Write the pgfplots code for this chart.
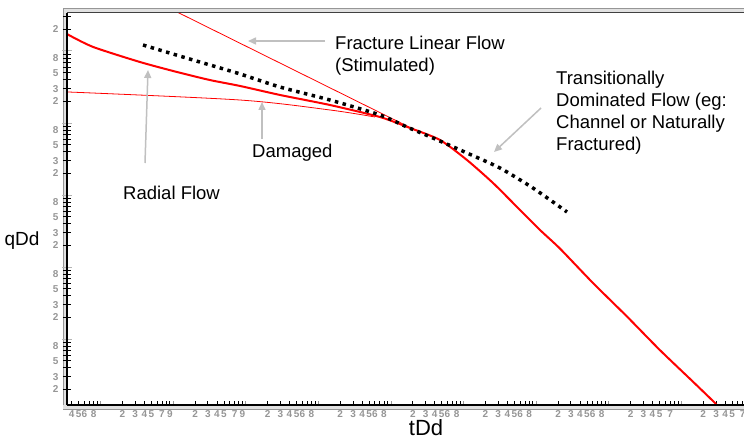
\documentclass[border=0pt]{standalone}
\usepackage{fontspec}
\setmainfont{Liberation Sans}
\usepackage{pgfplots}
\pgfplotsset{compat=1.18}
\usetikzlibrary{arrows.meta}
\definecolor{ticklab}{RGB}{150,150,150}
\definecolor{arrowgray}{RGB}{192,192,192}
\definecolor{band}{RGB}{225,225,225}
\definecolor{bandline}{RGB}{150,150,150}
\begin{document}
\begin{tikzpicture}[x=1pt,y=1pt]
% frame behind the axis
\fill[band] (63,31) rectangle (760,431);
\fill[white] (67,35) rectangle (760,427);
\draw[bandline,line width=1pt] (63,31) -- (63,431) -- (760,431);
\begin{axis}[
  at={(67pt,35pt)}, anchor=south west,
  scale only axis, width=680pt, height=392pt,
  xmode=log, ymode=log,
  xmin=3.445e-5, xmax=80090,
  ymin=1.2115e-4, ymax=33.71,
  axis line style={draw=none},
  tick pos=left,
  tick align=center,
  major tick length=8pt, minor tick length=8pt,
  every tick/.style={black, line width=0.8pt},
  xtick={4e-5,5e-5,6e-5,8e-5,
         2e-4,3e-4,4e-4,5e-4,7e-4,9e-4,
         2e-3,3e-3,4e-3,5e-3,7e-3,9e-3,
         2e-2,3e-2,4e-2,5e-2,6e-2,8e-2,
         0.2,0.3,0.4,0.5,0.6,0.8,
         2,3,4,5,6,8,
         20,30,40,50,60,80,
         200,300,400,500,600,800,
         2000,3000,4000,5000,7000,
         20000,30000,40000,50000,70000},
  xticklabels={4,5,6,8,
         2,3,4,5,7,9,
         2,3,4,5,7,9,
         2,3,4,5,6,8,
         2,3,4,5,6,8,
         2,3,4,5,6,8,
         2,3,4,5,6,8,
         2,3,4,5,6,8,
         2,3,4,5,7,
         2,3,4,5,7},
  minor xtick={7e-5,9e-5,
         6e-4,8e-4,6e-3,8e-3,
         7e-2,9e-2,0.7,0.9,7,9,70,90,700,900,
         6000,8000,9000,60000},
  ytick={8e-4,5e-4,3e-4,2e-4,
         2e-3,3e-3,5e-3,8e-3,
         2e-2,3e-2,5e-2,8e-2,
         0.2,0.3,0.5,0.8,
         2,3,5,8,
         20},
  yticklabels={8,5,3,2,
         2,3,5,8,
         2,3,5,8,
         2,3,5,8,
         2,3,5,8,
         2},
  minor ytick={4e-4,6e-4,7e-4,9e-4,
         4e-3,6e-3,7e-3,9e-3,
         4e-2,6e-2,7e-2,9e-2,
         0.4,0.6,0.7,0.9,
         4,6,7,9,30},
  extra x ticks={1e-4,1e-3,1e-2,1e-1,1,10,100,1000,10000},
  extra x tick labels={},
  extra x tick style={major tick length=8pt, tick style={bandline, line width=1pt}},
  extra y ticks={1e-3,1e-2,1e-1,1,10},
  extra y tick labels={},
  extra y tick style={major tick length=10pt, tick style={band!80!black, line width=1pt}},
  xticklabel style={font=\fontsize{10}{12}\selectfont\bfseries, text=ticklab, yshift=2pt},
  yticklabel style={font=\fontsize{10}{12}\selectfont\bfseries, text=ticklab, xshift=-1pt},
]
% main production curve
\addplot[red, line width=2pt, smooth, tension=0.4] coordinates {
(3.44e-5,17.2) (7.85e-5,11.4) (3.49e-4,7.03) (1.127e-3,5.11) (3.21e-3,3.95)
(8.32e-3,3.27) (2.96e-2,2.45) (0.1445,1.778) (0.705,1.211) (1.828,0.853)
(4.73,0.581) (11.14,0.306) (25.4,0.147) (54.5,0.0681) (112.7,0.0327)
(212.8,0.0180) (605,6.0e-3) (1782,2.05e-3) (5070,7.0e-4) (14450,2.55e-4)
(29040,1.29e-4) (30500,1.18e-4)
};
% fracture linear flow (half slope)
\addplot[red, line width=0.8pt] coordinates {(1e-3,37.0) (2.14,0.80)};
% damaged
\addplot[red, line width=0.8pt, smooth] coordinates {
(3.44e-5,2.70) (8.32e-3,2.086) (0.1445,1.516) (0.602,1.211)
};
% transitional (dotted)
\addplot[black, line width=3.5pt, dash pattern=on 3.5pt off 4.5pt, smooth, tension=0.4] coordinates {
(3.84e-4,12.11) (1.875e-3,7.50) (7.56e-3,4.95) (2.96e-2,3.16) (0.1445,2.086)
(0.705,1.292) (1.66,0.880) (3.79,0.619) (11.14,0.383) (31.7,0.237)
(90.3,0.125) (265.5,0.0581)
};
\end{axis}
% frame lines over the axis
\fill[band] (63,31) rectangle (760,34.6);
\draw[black,line width=1.2pt] (67,35) -- (760,35);
\draw[black,line width=1.2pt] (67,35) -- (67,427);
\draw[black!75,line width=1pt] (67,427) -- (760,427);
\draw[bandline,line width=1pt] (63,31) -- (760,31);
% annotations
\begin{scope}[arrowgray, line width=1.5pt, -{Triangle[length=8pt,width=7pt]}]
\draw (325,399) -- (248,399);
\draw (145,277) -- (148,370);
\draw (262,301) -- (262,338);
\draw (541,332) -- (494,288);
\end{scope}
\begin{scope}[every node/.style={inner sep=0pt, text=black, font=\fontsize{18.5}{22}\selectfont}]
\node[anchor=west, align=left] at (335,384) {Fracture Linear Flow\\(Stimulated)};
\node[anchor=west, align=left] at (556,327) {Transitionally\\Dominated Flow (eg:\\Channel or Naturally\\Fractured)};
\node[anchor=west] at (252,287) {Damaged};
\node[anchor=west] at (123,247) {Radial Flow};
\end{scope}
\node[font=\fontsize{19}{22}\selectfont, inner sep=0pt] at (22,199) {qDd};
\node[font=\fontsize{22}{26}\selectfont, inner sep=0pt] at (426,12) {tDd};
\pgfresetboundingbox
\useasboundingbox (0,0) rectangle (744,440);
\end{tikzpicture}
\end{document}
